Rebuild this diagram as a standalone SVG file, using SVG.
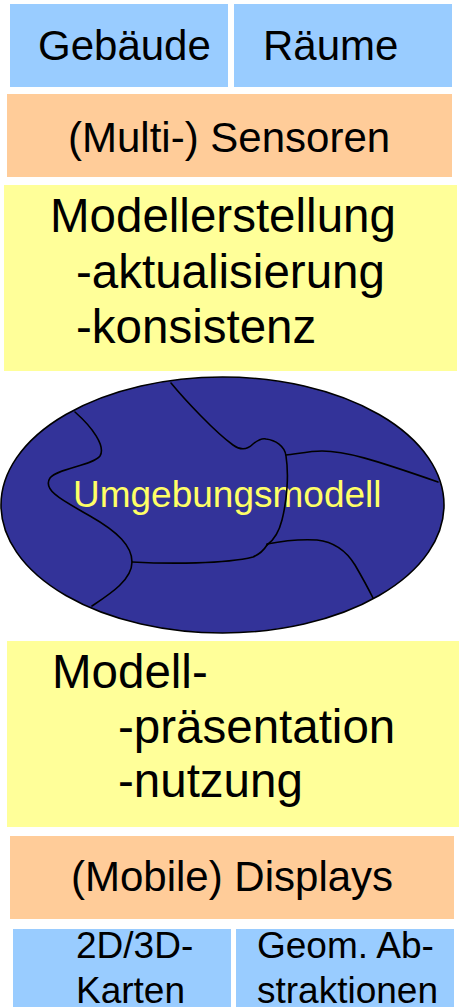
<svg xmlns="http://www.w3.org/2000/svg" width="459" height="1007" viewBox="0 0 459 1007">
  <style>
    .blue { fill: #99ccff; }
    .orange { fill: #ffcc99; }
    .yellow { fill: #ffff99; }
    text { font-family: "Liberation Sans", Arial, sans-serif; fill: #000; }
    .t42 { font-size: 42px; }
    .t47 { font-size: 47.5px; }
    .t37 { font-size: 37px; }
    .region { fill: none; stroke: #000; stroke-width: 1.6; stroke-linecap: round; }
  </style>
  <rect x="0" y="0" width="459" height="1007" fill="#ffffff"/>

  <g id="gebaeude">
    <rect class="blue" x="10" y="4" width="218" height="83"/>
    <text class="t42" x="38" y="60">Gebäude</text>
  </g>
  <g id="raeume">
    <rect class="blue" x="234" y="4" width="218" height="83"/>
    <text class="t42" x="263" y="60">Räume</text>
  </g>

  <g id="sensoren">
    <rect class="orange" x="7" y="94" width="445" height="83"/>
    <text class="t42" x="68" y="152">(Multi-) Sensoren</text>
  </g>

  <g id="modellerstellung">
    <rect class="yellow" x="4" y="185" width="453" height="186"/>
    <text class="t47" x="50" y="232">Modellerstellung</text>
    <text class="t47" x="76" y="288">-aktualisierung</text>
    <text class="t47" x="76" y="343">-konsistenz</text>
  </g>

  <g id="umgebungsmodell">
    <ellipse cx="222.5" cy="505" rx="221.5" ry="128" fill="#333399" stroke="#000" stroke-width="1.6"/>
    <text class="t37" x="73" y="507" style="fill:#ffff66">Umgebungsmodell</text>
    <!-- partition lines inside the model -->
    <path class="region" d="M75 412 C92 427 106 446 100 456 C92 466 58 468 50 478 C42 490 62 500 90 516 C118 532 132 546 132 562 C132 580 110 594 92 606"/>
    <path class="region" d="M132 562 C170 564 225 564 253 557 C260 554 264 550 267 545"/>
    <path class="region" d="M171 383 C185 400 215 432 233 445 C240 450 247 450 253 444 C258 440 262 438 266 439 C275 440 285 446 286 456 C289 475 287 500 282 520 C279 532 274 540 267 545"/>
    <path class="region" d="M286 455 C296 454 310 451 322 451 C345 451 372 459 438 482"/>
    <path class="region" d="M267 544 C282 541 300 539 317 540 C335 542 347 552 355 565 C362 577 368 588 373 598"/>
  </g>

  <g id="modellpraesentation">
    <rect class="yellow" x="7" y="641" width="452" height="186"/>
    <text class="t47" x="52" y="688">Modell-</text>
    <text class="t47" x="118" y="743">-präsentation</text>
    <text class="t47" x="118" y="797">-nutzung</text>
  </g>

  <g id="displays">
    <rect class="orange" x="10" y="836" width="444" height="83"/>
    <text class="t42" x="71" y="891">(Mobile) Displays</text>
  </g>

  <g id="karten">
    <rect class="blue" x="13" y="929" width="218" height="78"/>
    <text class="t37" x="76" y="958">2D/3D-</text>
    <text class="t37" x="76" y="1003">Karten</text>
  </g>
  <g id="abstraktionen">
    <rect class="blue" x="236" y="929" width="218" height="78"/>
    <text class="t37" x="257" y="958">Geom. Ab-</text>
    <text class="t37" x="257" y="1003">straktionen</text>
  </g>

  <g id="connectors"/>
</svg>
